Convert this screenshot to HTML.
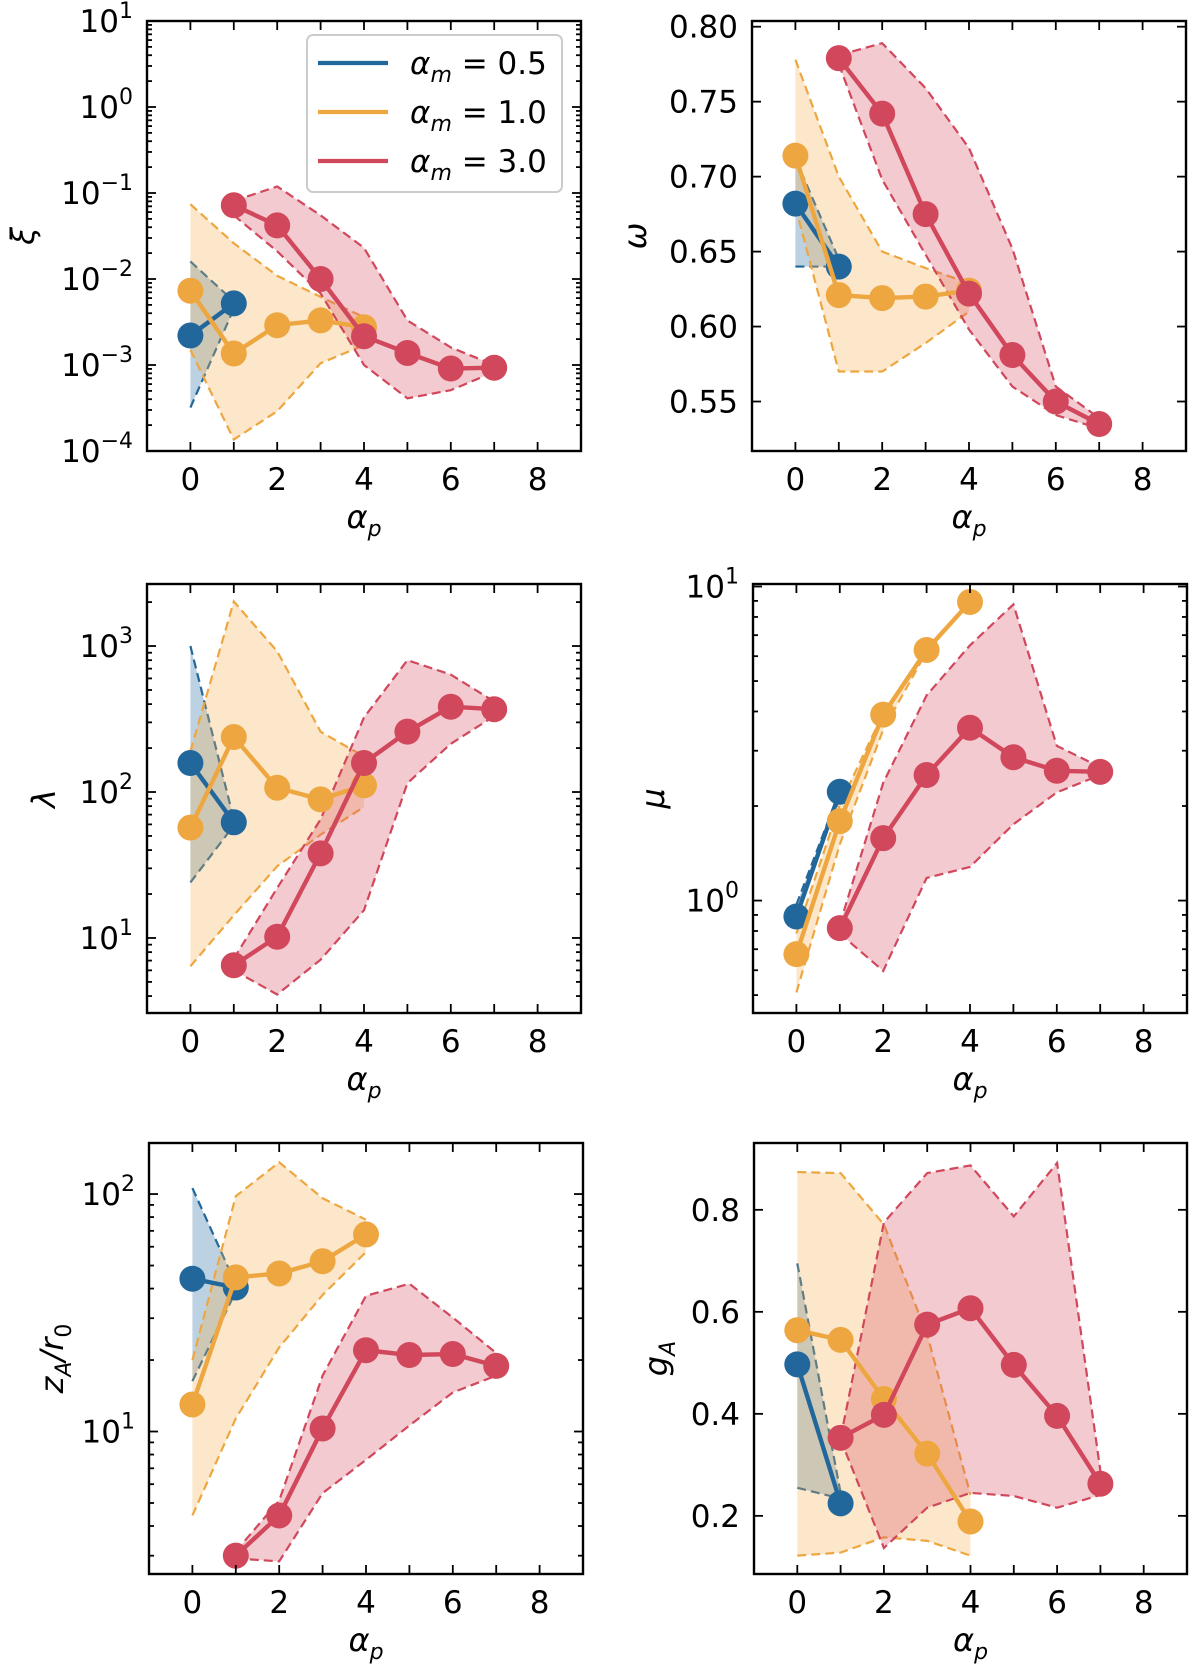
<!DOCTYPE html>
<html><head><meta charset="utf-8">
<style>
html,body{margin:0;padding:0;background:#fff;}
svg{display:block;}
text{font-family:"DejaVu Sans","Liberation Sans",sans-serif;fill:#000;}
</style></head>
<body>
<svg id="fig" width="1200" height="1675" viewBox="0 0 1200 1675" xmlns="http://www.w3.org/2000/svg"></svg>
<script>
// ---- data: x positions (alpha_p) ----
const xsBlue = [0, 1];
const xsOrange = [0, 1, 2, 3, 4];
const xsRed = [1, 2, 3, 4, 5, 6, 7];

// Panel xi (log)
const xiBlue = [2.2e-3, 5.2e-3];
const xiBlueHi = [1.6e-2, 5.5e-3];
const xiBlueLo = [3.2e-4, 4.5e-3];
const xiOrange = [7.3e-3, 1.36e-3, 2.9e-3, 3.3e-3, 2.75e-3];
const xiOrangeHi = [7.4e-2, 2.6e-2, 1.09e-2, 6.2e-3, 3.6e-3];
const xiOrangeLo = [1.5e-3, 1.36e-4, 2.9e-4, 1.05e-3, 1.7e-3];
const xiRed = [7.2e-2, 4.2e-2, 1.0e-2, 2.16e-3, 1.38e-3, 9.1e-4, 9.3e-4];
const xiRedHi = [8.1e-2, 1.19e-1, 5.5e-2, 2.3e-2, 3.3e-3, 1.6e-3, 1.0e-3];
const xiRedLo = [5.5e-2, 2.1e-2, 6.8e-3, 1.0e-3, 4.1e-4, 5.1e-4, 8.3e-4];

// Panel omega (linear)
const omBlue = [0.682, 0.640];
const omBlueHi = [0.712, 0.645];
const omBlueLo = [0.640, 0.640];
const omOrange = [0.714, 0.621, 0.619, 0.620, 0.624];
const omOrangeHi = [0.778, 0.700, 0.650, 0.639, 0.629];
const omOrangeLo = [0.680, 0.570, 0.570, 0.589, 0.610];
const omRed = [0.779, 0.742, 0.675, 0.622, 0.581, 0.550, 0.535];
const omRedHi = [0.781, 0.789, 0.759, 0.719, 0.652, 0.560, 0.539];
const omRedLo = [0.775, 0.698, 0.648, 0.598, 0.560, 0.541, 0.532];

// Panel lambda (log)
const laBlue = [158, 62];
const laBlueHi = [1000, 65];
const laBlueLo = [24, 59];
const laOrange = [57, 238, 107, 89, 111];
const laOrangeHi = [190, 2020, 920, 259, 175];
const laOrangeLo = [6.4, 14.3, 31, 51, 79];
const laRed = [6.5, 10.2, 38, 158, 259, 384, 369];
const laRedHi = [7.2, 22, 65, 324, 800, 637, 417];
const laRedLo = [6.0, 4.1, 7.1, 15.5, 115, 214, 331];

// Panel mu (log)
const muBlue = [0.89, 2.22];
const muBlueHi = [0.97, 2.24];
const muBlueLo = [0.92, 2.13];
const muOrange = [0.675, 1.79, 3.91, 6.28, 8.93];
const muOrangeHi = [0.785, 2.02, 3.95, 6.28, 8.93];
const muOrangeLo = [0.51, 1.51, 3.5, 6.2, 8.9];
const muRed = [0.817, 1.58, 2.51, 3.55, 2.86, 2.59, 2.57];
const muRedHi = [0.84, 2.37, 4.5, 6.5, 8.77, 3.11, 2.66];
const muRedLo = [0.785, 0.597, 1.18, 1.28, 1.75, 2.21, 2.51];

// Panel zA/r0 (log)
const zaBlue = [44, 40.4];
const zaBlueHi = [106, 41.7];
const zaBlueLo = [16.3, 38.9];
const zaOrange = [13.0, 44.6, 46.3, 52.1, 67.6];
const zaOrangeHi = [20, 98, 136, 96, 78];
const zaOrangeLo = [4.43, 11.35, 22.6, 37.6, 57];
const zaRed = [3.0, 4.43, 10.3, 22.0, 21.0, 21.2, 18.9];
const zaRedHi = [3.13, 5.12, 17.2, 37.3, 41.9, 30.2, 21.4];
const zaRedLo = [2.92, 2.84, 5.5, 7.6, 10.6, 14.6, 17.2];

// Panel gA (linear)
const gaBlue = [0.497, 0.2245];
const gaBlueHi = [0.695, 0.245];
const gaBlueLo = [0.255, 0.234];
const gaOrange = [0.564, 0.545, 0.429, 0.322, 0.189];
const gaOrangeHi = [0.874, 0.872, 0.771, 0.555, 0.241];
const gaOrangeLo = [0.122, 0.128, 0.158, 0.151, 0.122];
const gaRed = [0.353, 0.398, 0.575, 0.607, 0.496, 0.396, 0.263];
const gaRedHi = [0.353, 0.775, 0.872, 0.887, 0.787, 0.892, 0.288];
const gaRedLo = [0.350, 0.137, 0.216, 0.245, 0.239, 0.216, 0.241];

const xTickLabels = [0, 2, 4, 6, 8];
const omTicks = [0.55, 0.60, 0.65, 0.70, 0.75, 0.80];
const gaTicks = [0.2, 0.4, 0.6, 0.8];
const legendLabels = ["0.5", "1.0", "3.0"];

const COL = {blue:"#22679b", orange:"#eea740", red:"#d1475b"};
const FILL = {blue:"rgba(34,103,155,0.3)", orange:"rgba(245,175,80,0.3)", red:"rgba(214,80,100,0.3)"};
const NS = "http://www.w3.org/2000/svg";
const svg = document.getElementById("fig");

function mk(tag, attrs, parent){
  const e = document.createElementNS(NS, tag);
  for (const k in attrs) e.setAttribute(k, attrs[k]);
  (parent||svg).appendChild(e);
  return e;
}

function drawPanel(p){
  const g = mk("g", {});
  
  
  const X = v => p.x0 + (v - (-1)) / 10 * (p.x1 - p.x0);
  const Y = v => {
    const t = p.log ? Math.log10(v) : v;
    return p.y1 - (t - p.ymin) / (p.ymax - p.ymin) * (p.y1 - p.y0);
  };
  const clip = mk("clipPath", {id:"clip-"+p.name}, g);
  mk("rect", {x:p.x0, y:p.y0, width:p.x1-p.x0, height:p.y1-p.y0}, clip);
  const plot = mk("g", {"clip-path":"url(#clip-"+p.name+")"}, g);
  
  

  for (const s of p.series){
    const xs = s.xs;
    let pts = xs.map((x,i)=>X(x)+","+Y(s.hi[i]));
    for (let i=xs.length-1;i>=0;i--) pts.push(X(xs[i])+","+Y(s.lo[i]));
    const band = mk("polygon", {points:pts.join(" "), fill:FILL[s.c], stroke:"none"}, plot);
    
    
    for (const arr of [s.hi, s.lo]){
      const dl = mk("polyline", {points:xs.map((x,i)=>X(x)+","+Y(arr[i])).join(" "), fill:"none", stroke:COL[s.c], "stroke-width":2.2, "stroke-dasharray":"9,5"}, plot);
      
      
    }
  }
  for (const s of p.series){
    const xs = s.xs;
    const ln = mk("polyline", {points:xs.map((x,i)=>X(x)+","+Y(s.v[i])).join(" "), fill:"none", stroke:COL[s.c], "stroke-width":4.4, "stroke-linejoin":"round"}, plot);
    
    
    xs.forEach((x,i)=>{
      const c = mk("circle", {cx:X(x), cy:Y(s.v[i]), r:13, fill:COL[s.c]}, plot);
      
      
    });
  }
  const fr = mk("rect", {x:p.x0, y:p.y0, width:p.x1-p.x0, height:p.y1-p.y0, fill:"none", stroke:"#000", "stroke-width":2.4}, g);
  
  
  for (let v=0; v<=8; v++){
    const x = X(v);
    mk("line", {x1:x, x2:x, y1:p.y1, y2:p.y1-9, stroke:"#000", "stroke-width":1.8}, g);
    mk("line", {x1:x, x2:x, y1:p.y0, y2:p.y0+9, stroke:"#000", "stroke-width":1.8}, g);
  }
  xTickLabels.forEach(v=>{
    const t = mk("text", {x:X(v), y:p.y1+39, "text-anchor":"middle", "font-size":31}, g);
    t.textContent = String(v);
    
    
  });
  const xl = mk("text", {x:(p.x0+p.x1)/2, y:p.y1+77, "text-anchor":"middle", "font-size":32, "font-style":"italic"}, g);
  xl.innerHTML = 'α<tspan font-size="22" dy="8">p</tspan>';
  
  
  const tick = (y, len) => {
    mk("line", {x1:p.x0, x2:p.x0+len, y1:y, y2:y, stroke:"#000", "stroke-width":1.8}, g);
    mk("line", {x1:p.x1, x2:p.x1-len, y1:y, y2:y, stroke:"#000", "stroke-width":1.8}, g);
  };
  if (p.log){
    for (let d=Math.floor(p.ymin); d<=Math.ceil(p.ymax); d++){
      for (let m=1; m<10; m++){
        const lv = d + Math.log10(m);
        if (lv < p.ymin-1e-6 || lv > p.ymax+1e-6) continue;
        const y = p.y1 - (lv-p.ymin)/(p.ymax-p.ymin)*(p.y1-p.y0);
        tick(y, m===1?9:5);
        if (m===1){
          const t = mk("text", {x:p.x0-14, y:y+11, "text-anchor":"end", "font-size":31}, g);
          t.innerHTML = '10<tspan font-size="22" dy="-14">' + (d<0?'−':'') + Math.abs(d) + '</tspan>';
          
          
        }
      }
    }
  } else {
    p.ticks.forEach(v=>{
      const y = Y(v);
      tick(y, 9);
      const t = mk("text", {x:p.x0-14, y:y+11, "text-anchor":"end", "font-size":31}, g);
      t.textContent = v.toFixed(p.dec);
      
      
    });
  }
  const yl = mk("text", {x:0, y:0, "text-anchor":"middle", "font-size":32, "font-style":"italic", transform:"translate("+p.ylx+","+((p.y0+p.y1)/2)+") rotate(-90)"}, g);
  yl.innerHTML = p.ylabel;
  
  
}

function ser(b,bh,bl,o,oh,ol,r,rh,rl){
  return [
    {c:"blue", xs:xsBlue, v:b, hi:bh, lo:bl},
    {c:"orange", xs:xsOrange, v:o, hi:oh, lo:ol},
    {c:"red", xs:xsRed, v:r, hi:rh, lo:rl}
  ];
}

drawPanel({name:"xi", x0:147, x1:581, y0:21, y1:451, log:true, ymin:-4, ymax:1, ylx:34, ylabel:"ξ",
  series:ser(xiBlue,xiBlueHi,xiBlueLo,xiOrange,xiOrangeHi,xiOrangeLo,xiRed,xiRedHi,xiRedLo)});
drawPanel({name:"omega", x0:752, x1:1186, y0:21, y1:451, log:false, ymin:0.517, ymax:0.8038, ticks:omTicks, dec:2, ylx:646, ylabel:"ω",
  series:ser(omBlue,omBlueHi,omBlueLo,omOrange,omOrangeHi,omOrangeLo,omRed,omRedHi,omRedLo)});
drawPanel({name:"lambda", x0:147, x1:581, y0:584, y1:1013, log:true, ymin:0.486, ymax:3.425, ylx:55, ylabel:"λ",
  series:ser(laBlue,laBlueHi,laBlueLo,laOrange,laOrangeHi,laOrangeLo,laRed,laRedHi,laRedLo)});
drawPanel({name:"mu", x0:753, x1:1187, y0:584, y1:1013, log:true, ymin:-0.358, ymax:1.008, ylx:664, ylabel:"μ",
  series:ser(muBlue,muBlueHi,muBlueLo,muOrange,muOrangeHi,muOrangeLo,muRed,muRedHi,muRedLo)});
drawPanel({name:"za", x0:149, x1:583, y0:1143, y1:1574, log:true, ymin:0.4, ymax:2.215, ylx:63, ylabel:'z<tspan font-size="22" dy="8">A</tspan><tspan dy="-8">/r</tspan><tspan font-size="22" dy="8" font-style="normal">0</tspan>',
  series:ser(zaBlue,zaBlueHi,zaBlueLo,zaOrange,zaOrangeHi,zaOrangeLo,zaRed,zaRedHi,zaRedLo)});
drawPanel({name:"ga", x0:754, x1:1187, y0:1143, y1:1574, log:false, ymin:0.086, ymax:0.931, ticks:gaTicks, dec:1, ylx:667, ylabel:'g<tspan font-size="22" dy="8">A</tspan>',
  series:ser(gaBlue,gaBlueHi,gaBlueLo,gaOrange,gaOrangeHi,gaOrangeLo,gaRed,gaRedHi,gaRedLo)});

// legend
const lg = mk("g", {});


mk("rect", {x:307, y:35, width:255, height:157, rx:6, fill:"rgba(255,255,255,0.85)", stroke:"#cccccc", "stroke-width":2}, lg);
const legCols = ["blue","orange","red"];
legendLabels.forEach((lab,i)=>{
  const y = 63 + i*49;
  const e = mk("g", {}, lg);
  
  
  mk("line", {x1:318, x2:388, y1:y, y2:y, stroke:COL[legCols[i]], "stroke-width":4.2}, e);
  const t = mk("text", {x:410, y:y+11, "font-size":31}, e);
  t.innerHTML = '<tspan font-style="italic">α</tspan><tspan font-style="italic" font-size="22" dy="8">m</tspan><tspan dy="-8" xml:space="preserve"> = ' + lab + '</tspan>';
});
</script>
</body></html>
